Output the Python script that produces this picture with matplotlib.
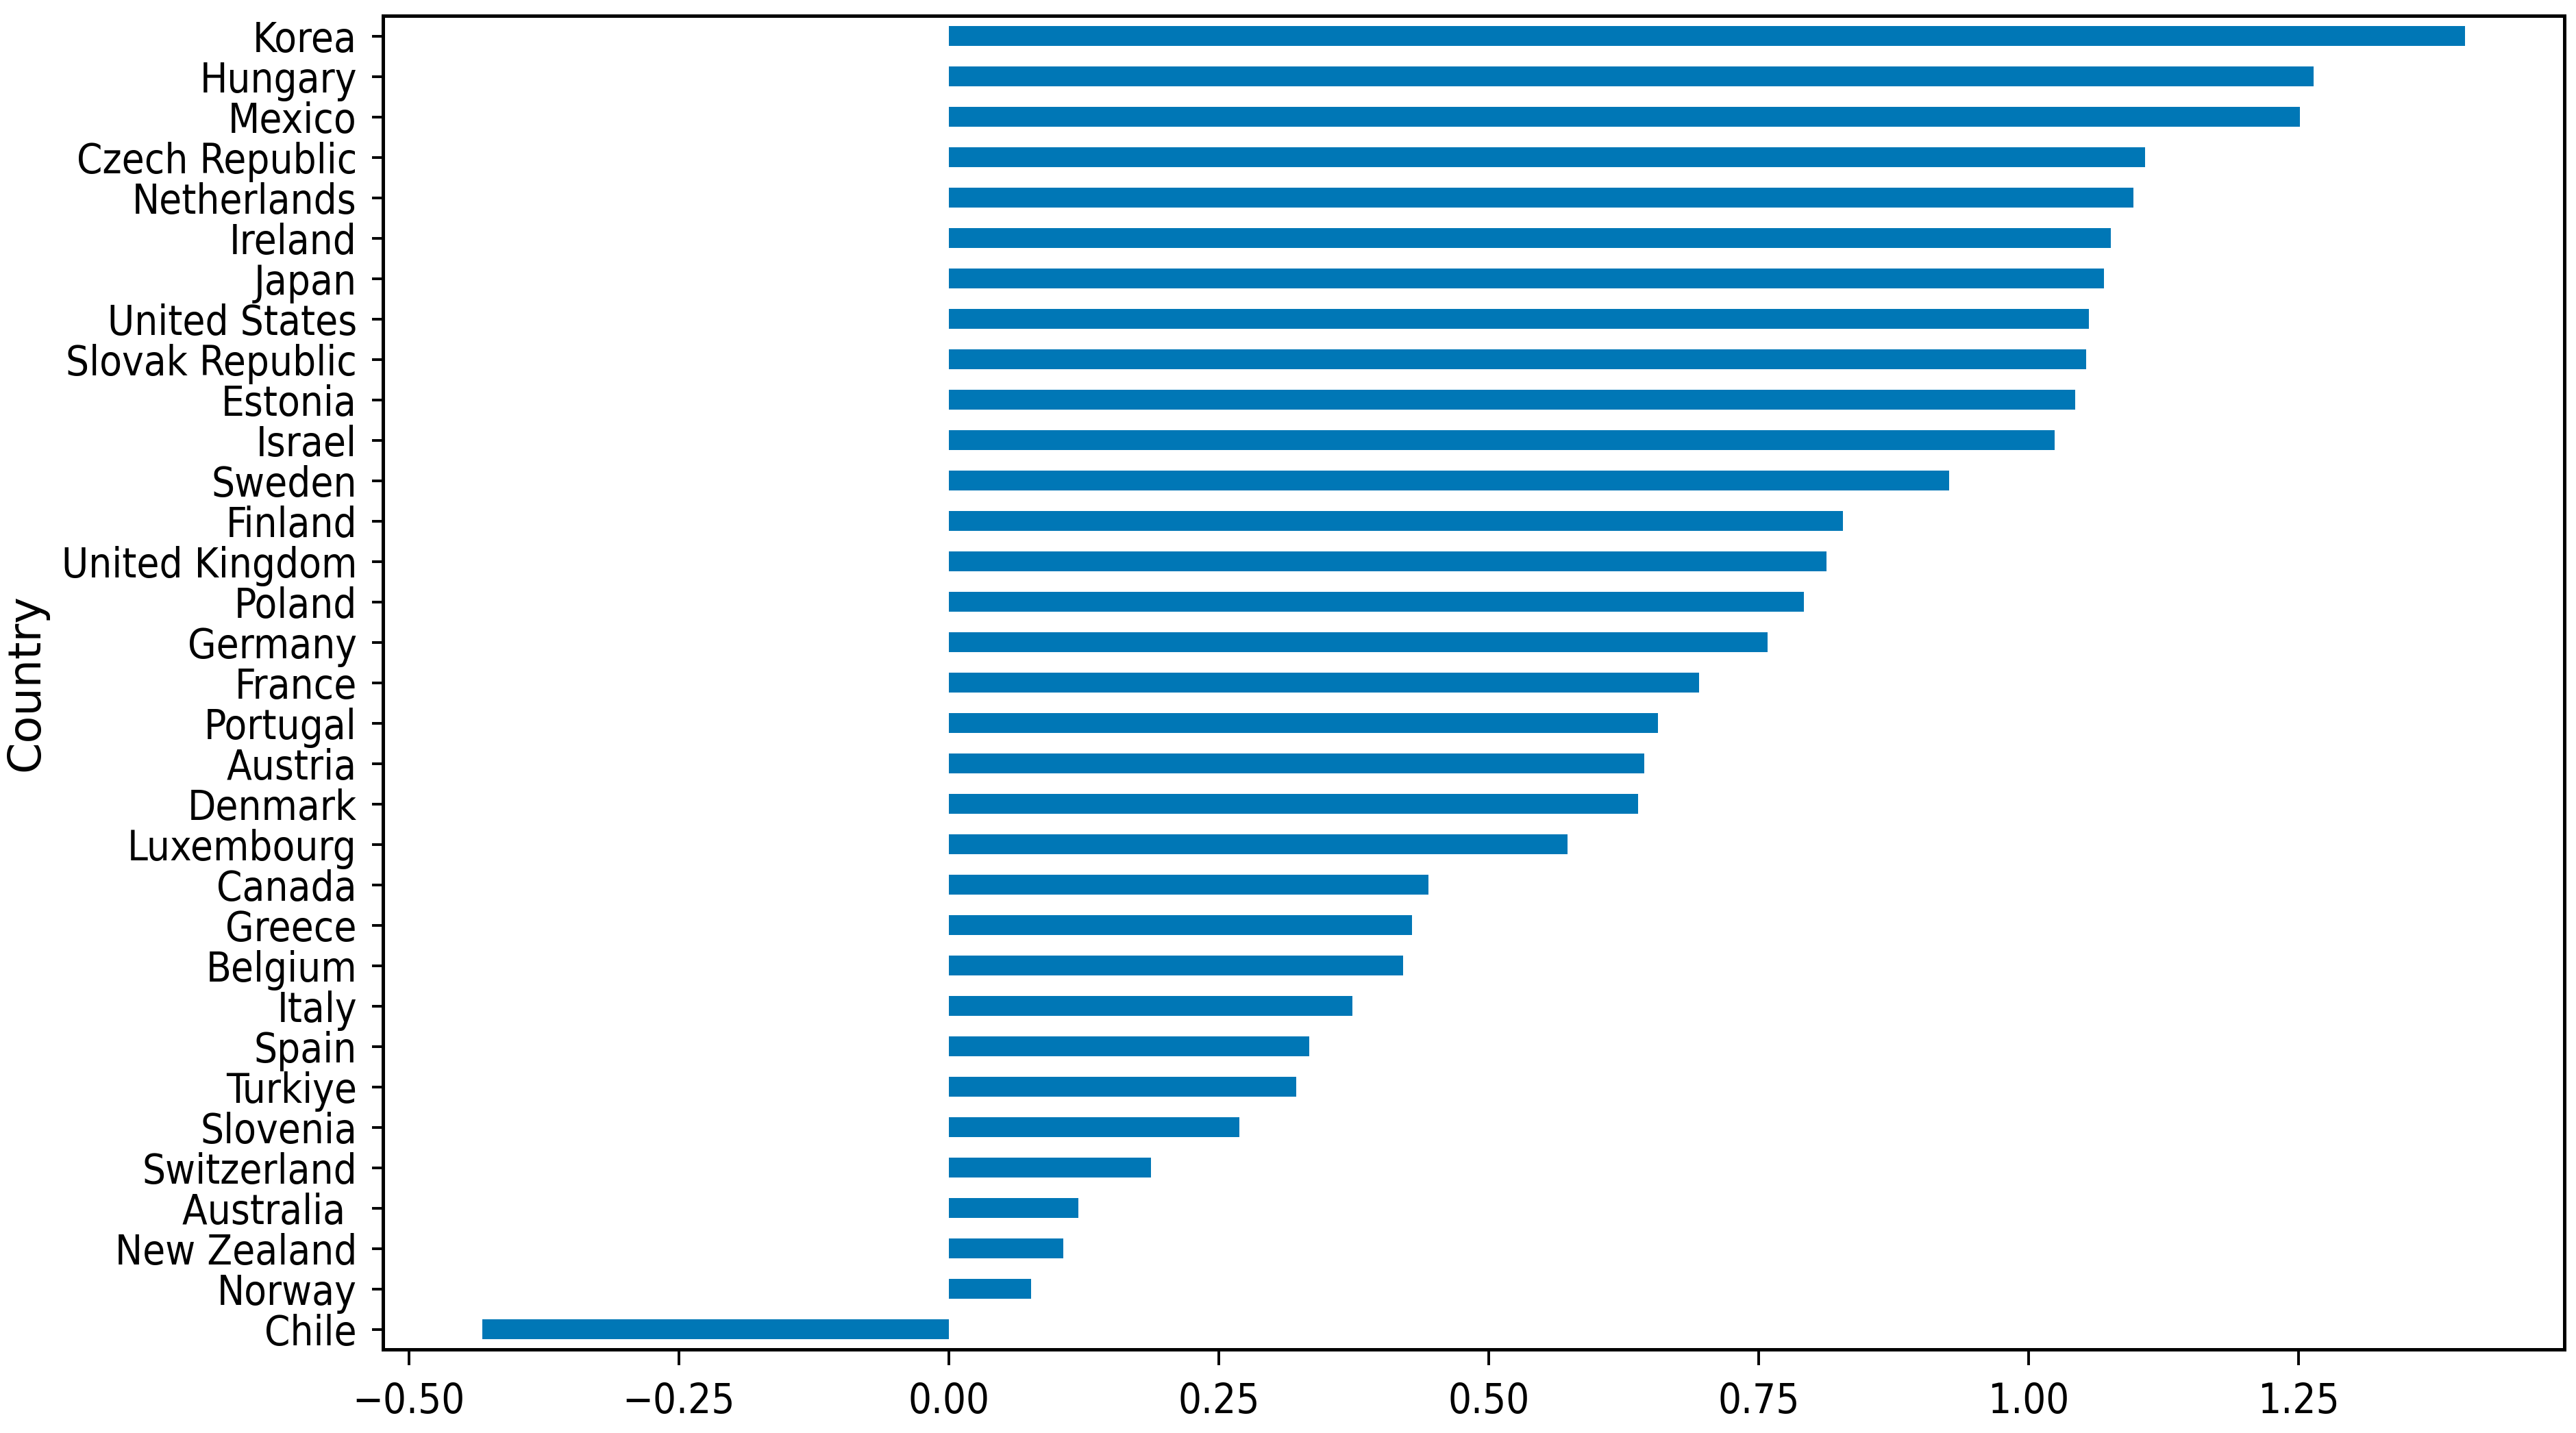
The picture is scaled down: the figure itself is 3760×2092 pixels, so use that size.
import numpy as np
import matplotlib.pyplot as plt
import pandas as pd

# data, bottom to top
countries = ["Chile", "Norway", "New Zealand", "Australia ", "Switzerland", "Slovenia",
             "Turkiye", "Spain", "Italy", "Belgium", "Greece", "Canada", "Luxembourg",
             "Denmark", "Austria", "Portugal", "France", "Germany", "Poland",
             "United Kingdom", "Finland", "Sweden", "Israel", "Estonia",
             "Slovak Republic", "United States", "Japan", "Ireland", "Netherlands",
             "Czech Republic", "Mexico", "Hungary", "Korea"]
values = [-0.432, 0.076, 0.106, 0.120, 0.187, 0.269, 0.322, 0.334, 0.374, 0.421,
          0.429, 0.444, 0.573, 0.638, 0.644, 0.657, 0.695, 0.758, 0.792, 0.813,
          0.828, 0.926, 1.024, 1.043, 1.053, 1.056, 1.070, 1.076, 1.097, 1.108,
          1.251, 1.264, 1.404]

plt.rcParams['font.family'] = 'DejaVu Sans'
plt.rcParams['font.stretch'] = 'condensed'

s = pd.Series(values, index=pd.Index(countries, name="Country"))

fig = plt.figure(figsize=(37.6, 20.92), dpi=100)
ax = fig.add_axes([0.1487, 0.0583, 0.8467, 0.9307])
s.plot.barh(ax=ax, color="#0077b6", width=0.5)

ax.set_ylabel("Country", fontsize=47, fontstretch='normal', labelpad=14)
ax.tick_params(axis='y', labelsize=43, length=11.5, width=2.8, pad=16)
ax.tick_params(axis='x', labelsize=43, length=16.5, width=2.8, pad=17)
ax.set_xticks([-0.5, -0.25, 0, 0.25, 0.5, 0.75, 1.0, 1.25])

for side in ax.spines:
    ax.spines[side].set_linewidth(3.6)

fig.savefig("out.png", dpi=100)
